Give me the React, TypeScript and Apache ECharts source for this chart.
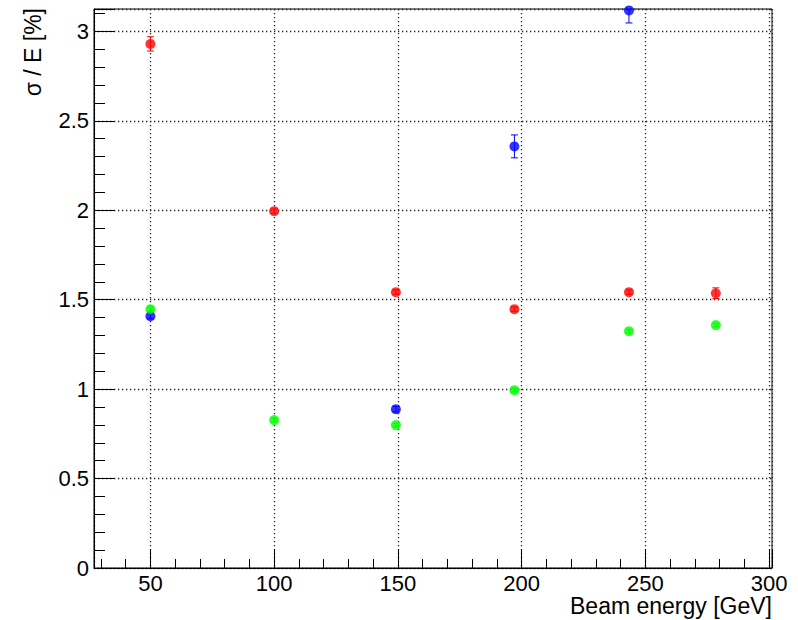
import React, { useEffect, useRef } from "react";
import * as echarts from "echarts";

// Beam energies [GeV]
const redX = [50, 100, 149.2, 197.1, 243.4, 278.5];
const redY = [2.93, 1.995, 1.542, 1.447, 1.542, 1.536];
const redErr = [0.04, 0.012, 0.012, 0.012, 0.012, 0.03];

const blueX = [50, 149.2, 197.1, 243.4];
const blueY = [1.408, 0.888, 2.357, 3.117];
const blueErr = [0.015, 0.015, 0.064, 0.07];

const greenX = [50, 100, 149.2, 197.1, 243.4, 278.5];
const greenY = [1.447, 0.827, 0.799, 0.994, 1.324, 1.358];
const greenErr = [0.01, 0.01, 0.01, 0.01, 0.01, 0.01];

const xAxisTitle = "Beam energy [GeV]";
const yAxisTitle = "σ / E [%]";

const X_MIN = 27.2;
const X_MAX = 301.2;
const Y_MIN = 0;
const Y_MAX = 3.125;

const FONT = "Liberation Sans";

function errorSeries(xs: number[], ys: number[], es: number[], color: string) {
  return {
    type: "custom",
    silent: true,
    data: xs.map((x, i) => [x, ys[i], es[i]]),
    encode: { x: 0, y: 1 },
    renderItem: (params: any, api: any) => {
      const x = api.value(0);
      const y = api.value(1);
      const e = api.value(2);
      const lo = api.coord([x, y - e]);
      const hi = api.coord([x, y + e]);
      const cs = params.coordSys;
      const top = Math.max(hi[1], cs.y);
      const bottom = Math.min(lo[1], cs.y + cs.height);
      const cap = 3.5;
      const style = { stroke: color, lineWidth: 1 };
      const children: any[] = [
        { type: "line", shape: { x1: lo[0], y1: bottom, x2: lo[0], y2: top }, style },
      ];
      if (hi[1] >= cs.y) {
        children.push({ type: "line", shape: { x1: hi[0] - cap, y1: hi[1], x2: hi[0] + cap, y2: hi[1] }, style });
      }
      if (lo[1] <= cs.y + cs.height) {
        children.push({ type: "line", shape: { x1: lo[0] - cap, y1: lo[1], x2: lo[0] + cap, y2: lo[1] }, style });
      }
      return { type: "group", children };
    },
  };
}

function pointSeries(xs: number[], ys: number[], color: string) {
  return {
    type: "scatter",
    data: xs.map((x, i) => [x, ys[i]]),
    symbol: "circle",
    symbolSize: 10,
    itemStyle: { color },
    clip: false,
  };
}

export default function App() {
  const ref = useRef<HTMLDivElement>(null);

  useEffect(() => {
    if (!ref.current) return;
    const chart = echarts.init(ref.current, undefined, { renderer: "svg" });
    const gridLine = { color: "#222", width: 1.3, type: [1.3, 2.7] as any };
    chart.setOption({
      animation: false,
      backgroundColor: "#fff",
      textStyle: { fontFamily: FONT },
      grid: {
        left: 94,
        top: 9,
        right: 26,
        bottom: 52,
        show: true,
        borderColor: "#000",
        borderWidth: 1,
        backgroundColor: "transparent",
      },
      xAxis: {
        type: "value",
        min: X_MIN,
        max: X_MAX,
        splitNumber: 5,
        axisLine: { show: true, lineStyle: { color: "#000", width: 1 } },
        axisTick: { show: true, inside: true, length: 18, lineStyle: { color: "#000" } },
        minorTick: { show: true, splitNumber: 5, length: 9, lineStyle: { color: "#000" } },
        splitLine: { show: true, lineStyle: gridLine },
        axisLabel: {
          color: "#000",
          fontFamily: FONT,
          fontSize: 22,
          margin: 4,
          hideOverlap: false,
          formatter: (v: number) => (Math.abs(v / 50 - Math.round(v / 50)) < 1e-6 ? String(v) : ""),
        },
      },
      yAxis: {
        type: "value",
        min: Y_MIN,
        max: Y_MAX,
        splitNumber: 5,
        axisLine: { show: true, lineStyle: { color: "#000", width: 1 } },
        axisTick: { show: true, inside: true, length: 20, lineStyle: { color: "#000" } },
        minorTick: { show: true, splitNumber: 5, length: 11, lineStyle: { color: "#000" } },
        splitLine: { show: true, lineStyle: gridLine },
        axisLabel: {
          color: "#000",
          fontFamily: FONT,
          fontSize: 22,
          margin: 5,
          hideOverlap: false,
          formatter: (v: number) => (Math.abs(v * 2 - Math.round(v * 2)) < 1e-6 ? String(v) : ""),
        },
      },
      graphic: [
        {
          type: "text",
          x: 772,
          y: 606,
          style: {
            text: xAxisTitle,
            font: `23px "${FONT}"`,
            fill: "#000",
            textAlign: "right",
            textVerticalAlign: "middle",
          },
        },
        {
          type: "text",
          x: 33,
          y: 8,
          rotation: Math.PI / 2,
          style: {
            text: yAxisTitle,
            font: `23px "${FONT}"`,
            fill: "#000",
            textAlign: "right",
            textVerticalAlign: "middle",
          },
        },
      ],
      series: [
        errorSeries(redX, redY, redErr, "#ff0000"),
        pointSeries(redX, redY, "#ff0000"),
        errorSeries(blueX, blueY, blueErr, "#0000ff"),
        pointSeries(blueX, blueY, "#0000ff"),
        errorSeries(greenX, greenY, greenErr, "#00ff00"),
        pointSeries(greenX, greenY, "#00ff00"),
      ],
    });
    return () => chart.dispose();
  }, []);

  return (
    <div
      ref={ref}
      style={{ position: "fixed", left: 0, top: 0, width: 798, height: 620, background: "#fff" }}
    />
  );
}
